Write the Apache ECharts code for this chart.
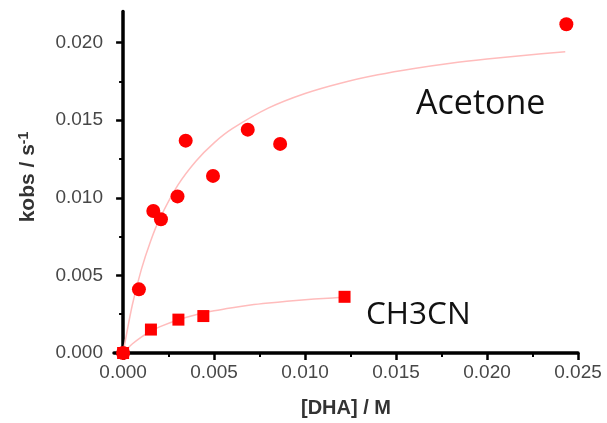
<!DOCTYPE html>
<html>
<head>
<meta charset="utf-8">
<script src="https://cdn.jsdelivr.net/npm/echarts@6/dist/echarts.min.js"></script>
<style>html,body{margin:0;padding:0;background:#fff}#c{width:607px;height:423px}</style>
</head>
<body>
<div id="c"></div>
<script>
// ---- data ----
const acetoneX = [0, 0.00087, 0.00166, 0.00208, 0.00299, 0.00344, 0.00494, 0.00685, 0.00863, 0.02436];
const acetoneY = [0, 0.0041, 0.00915, 0.00862, 0.01009, 0.01368, 0.01141, 0.01439, 0.01347, 0.02118];
const ch3cnX = [0, 0.00153, 0.00304, 0.00441, 0.01217];
const ch3cnY = [0, 0.00151, 0.00215, 0.00238, 0.00362];
// fitted curves
const acetoneFitX = [0, 0.0005, 0.001, 0.0015, 0.002, 0.003, 0.004, 0.005, 0.006, 0.008, 0.010, 0.012, 0.014, 0.016, 0.018, 0.020, 0.022, 0.0243];
const acetoneFitY = [0, 0.00306, 0.00537, 0.00717, 0.00862, 0.0108, 0.01236, 0.01354, 0.01445, 0.01579, 0.01672, 0.0174, 0.01792, 0.01833, 0.01867, 0.01894, 0.01917, 0.0194];
const ch3cnFitX = [0, 0.0005, 0.001, 0.0015, 0.002, 0.003, 0.004, 0.005, 0.006, 0.007, 0.008, 0.009, 0.010, 0.011, 0.0122];
const ch3cnFitY = [0, 0.000576, 0.001025, 0.001385, 0.00168, 0.00213, 0.00247, 0.00272, 0.00292, 0.00309, 0.00322, 0.00333, 0.00343, 0.00351, 0.0036];
// axes
const xMajorTicks = [0, 0.005, 0.010, 0.015, 0.020, 0.025];
const xMinorTicks = [0.0025, 0.0075, 0.0125, 0.0175, 0.0225];
const yMajorTicks = [0, 0.005, 0.010, 0.015, 0.020];
const yMinorTicks = [0.0025, 0.0075, 0.0125, 0.0175];
const xRange = [-0.0005, 0.025];
const yRange = [0, 0.022];
const xTitle = '[DHA] / M';
const yTitleMain = 'kobs / s';
const yTitleSup = '-1';
const label1 = 'Acetone';
const label2 = 'CH3CN';

const zip = (a, b) => a.map((v, i) => [v, b[i]]);
const chart = echarts.init(document.getElementById('c'), null, {renderer: 'canvas'});
const tickFont = {fontFamily: 'Liberation Sans, Arial, sans-serif', fontSize: 19, color: '#474747'};

chart.setOption({
  animation: false,
  backgroundColor: '#fff',
  grid: {left: 114, right: 29, top: 11.5, bottom: 67},
  xAxis: [
    {
      type: 'value', min: xRange[0], max: xRange[1],
      axisLine: {show: true, lineStyle: {color: '#000', width: 3.5}},
      axisTick: {show: true, customValues: xMajorTicks, length: 7, lineStyle: {color: '#000', width: 2.5}},
      axisLabel: Object.assign({customValues: xMajorTicks, margin: 10, formatter: v => v.toFixed(3)}, tickFont),
      splitLine: {show: false},
      name: xTitle, nameLocation: 'middle', nameGap: 45,
      nameTextStyle: {fontFamily: 'Liberation Sans, Arial, sans-serif', fontWeight: 'bold', fontSize: 20, color: '#333'}
    },
    {
      type: 'value', position: 'bottom', min: xRange[0], max: xRange[1],
      axisLine: {show: false},
      axisTick: {show: true, customValues: xMinorTicks, length: 4, lineStyle: {color: '#000', width: 2}},
      axisLabel: {show: false},
      splitLine: {show: false}
    }
  ],
  yAxis: [
    {
      type: 'value', min: yRange[0], max: yRange[1],
      axisLine: {show: true, lineStyle: {color: '#000', width: 3.5}},
      axisTick: {show: true, customValues: yMajorTicks, length: 7, lineStyle: {color: '#000', width: 2.5}},
      axisLabel: Object.assign({customValues: yMajorTicks, margin: 11, formatter: v => v.toFixed(3)}, tickFont),
      splitLine: {show: false}
    },
    {
      type: 'value', position: 'left', min: yRange[0], max: yRange[1],
      axisLine: {show: false},
      axisTick: {show: true, customValues: yMinorTicks, length: 4, lineStyle: {color: '#000', width: 2}},
      axisLabel: {show: false},
      splitLine: {show: false}
    }
  ],
  graphic: [
    {
      type: 'text', x: 28, y: 177, rotation: Math.PI / 2,
      style: {
        text: '{m|' + yTitleMain + '}{s|' + yTitleSup + '}',
        align: 'center', verticalAlign: 'middle',
        rich: {
          m: {fontFamily: 'Liberation Sans, Arial, sans-serif', fontWeight: 'bold', fontSize: 21, fill: '#333'},
          s: {fontFamily: 'Liberation Sans, Arial, sans-serif', fontWeight: 'bold', fontSize: 14, fill: '#333', verticalAlign: 'top'}
        }
      }
    },
    {
      type: 'text', x: 416, y: 104,
      style: {text: label1, fontFamily: 'Open Sans, sans-serif', fontSize: 34, fill: '#111', align: 'left', verticalAlign: 'middle'}
    },
    {
      type: 'text', x: 366, y: 315,
      style: {text: label2, fontFamily: 'Open Sans, sans-serif', fontSize: 31.5, fill: '#111', align: 'left', verticalAlign: 'middle'}
    }
  ],
  series: [
    {
      type: 'line', data: zip(acetoneFitX, acetoneFitY), smooth: 0.3, showSymbol: false,
      lineStyle: {color: '#ffbcbc', width: 1.5}, z: 1, clip: false
    },
    {
      type: 'line', data: zip(ch3cnFitX, ch3cnFitY), smooth: 0.3, showSymbol: false,
      lineStyle: {color: '#ffbcbc', width: 1.5}, z: 1, clip: false
    },
    {
      type: 'scatter', data: zip(acetoneX, acetoneY), symbol: 'circle', symbolSize: 14,
      itemStyle: {color: '#ff0000', opacity: 1}, z: 3, clip: false
    },
    {
      type: 'scatter', data: zip(ch3cnX, ch3cnY), symbol: 'rect', symbolSize: 12,
      itemStyle: {color: '#ff0000', opacity: 1}, z: 3, clip: false
    }
  ]
});
</script>
</body>
</html>
